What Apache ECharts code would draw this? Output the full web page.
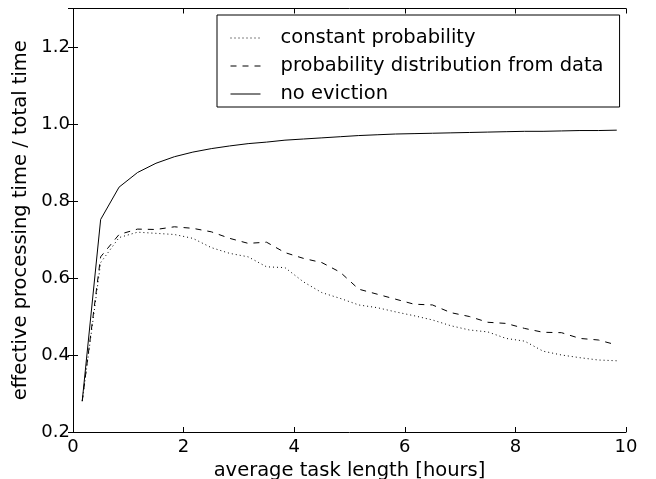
<!DOCTYPE html>
<html><head><meta charset="utf-8">
<script src="https://cdn.jsdelivr.net/npm/echarts@6/dist/echarts.min.js"></script>
<style>html,body{margin:0;padding:0;background:#fff}#c{width:656px;height:479px}</style>
</head><body><div id="c"></div>
<script>
// average task length [hours] (samples every 20 min, starting at 10 min)
const taskLength = [0.167,0.5,0.833,1.167,1.5,1.833,2.167,2.5,2.833,3.167,3.5,3.833,4.167,4.5,4.833,5.167,5.5,5.833,6.167,6.5,6.833,7.167,7.5,7.833,8.167,8.5,8.833,9.167,9.5,9.833];
const constantProb = [0.28,0.64,0.705,0.719,0.716,0.713,0.703,0.679,0.664,0.655,0.629,0.627,0.59,0.562,0.547,0.53,0.523,0.512,0.502,0.491,0.476,0.465,0.46,0.443,0.436,0.41,0.40,0.393,0.387,0.385];
const distFromData = [0.28,0.655,0.713,0.727,0.726,0.733,0.729,0.72,0.703,0.69,0.693,0.666,0.651,0.64,0.615,0.571,0.558,0.545,0.532,0.53,0.51,0.50,0.485,0.482,0.469,0.459,0.458,0.443,0.439,0.426];
const noEviction = [0.281,0.752,0.836,0.874,0.898,0.915,0.927,0.936,0.943,0.949,0.953,0.958,0.961,0.964,0.967,0.970,0.972,0.974,0.975,0.976,0.977,0.978,0.979,0.980,0.981,0.981,0.982,0.983,0.983,0.984];
const xTicks = [0,2,4,6,8,10];
const yTicks = [0.2,0.4,0.6,0.8,1.0,1.2];
const seriesNames = ['constant probability','probability distribution from data','no eviction'];

const pair = ys => taskLength.map((x,i)=>[x, ys[i]]);
const font = 'DejaVu Sans';
const tickStyle = {show:true, inside:true, length:5, lineStyle:{color:'#000', width:1}};
const lineAx = {show:true, lineStyle:{color:'#000', width:1}};

const chart = echarts.init(document.getElementById('c'), null, {renderer:'canvas'});
chart.setOption({
  animation:false,
  backgroundColor:'#fff',
  grid:{left:73, right:30, top:8.5, bottom:47, containLabel:false, outerBoundsMode:'none'},
  legend:{
    orient:'vertical', left:217, top:15,
    data:seriesNames,
    borderColor:'#000', borderWidth:1, borderRadius:0,
    padding:[13,16,3,13], itemGap:8, itemWidth:30, itemHeight:20,
    itemStyle:{opacity:0}, lineStyle:{width:1},
    textStyle:{fontFamily:font, fontSize:19.5, color:'#000', padding:[0,0,0,15]},
    selectedMode:false
  },
  xAxis:[
    {type:'value', min:0, max:10, interval:2, position:'bottom',
     name:'average task length [hours]', nameLocation:'middle', nameGap:27,
     nameTextStyle:{fontFamily:font, fontSize:19.5, color:'#000'},
     axisLine:lineAx, axisTick:tickStyle, splitLine:{show:false},
     axisLabel:{fontFamily:font, fontSize:18, color:'#000', margin:6,
       formatter:v=>{const t=xTicks.find(a=>Math.abs(a-v)<1e-6);return t===undefined?'':String(t);}}},
    {type:'value', min:0, max:10, interval:2, position:'top',
     axisLine:lineAx, axisTick:tickStyle, splitLine:{show:false}, axisLabel:{show:false}}
  ],
  yAxis:[
    {type:'value', min:0.2, max:1.3, interval:0.2, position:'left',
     name:'effective processing time / total time', nameLocation:'middle', nameGap:35,
     nameTextStyle:{fontFamily:font, fontSize:19.5, color:'#000'},
     axisLine:lineAx, axisTick:tickStyle, splitLine:{show:false},
     axisLabel:{fontFamily:font, fontSize:18, color:'#000', margin:3,
       formatter:v=>{const t=yTicks.find(a=>Math.abs(a-v)<1e-6);return t===undefined?'':t.toFixed(1);}}},
    {type:'value', min:0.2, max:1.3, interval:0.2, position:'right',
     axisLine:lineAx, axisTick:tickStyle, splitLine:{show:false}, axisLabel:{show:false}}
  ],
  series:[
    {name:seriesNames[0], type:'line', data:pair(constantProb), symbol:'none', showSymbol:false,
     lineStyle:{color:'#000', width:1, type:[1,3]}, itemStyle:{color:'#000'}},
    {name:seriesNames[1], type:'line', data:pair(distFromData), symbol:'none', showSymbol:false,
     lineStyle:{color:'#000', width:1, type:[6,6]}, itemStyle:{color:'#000'}},
    {name:seriesNames[2], type:'line', data:pair(noEviction), symbol:'none', showSymbol:false,
     lineStyle:{color:'#000', width:1, type:'solid'}, itemStyle:{color:'#000'}}
  ]
});
</script></body></html>
